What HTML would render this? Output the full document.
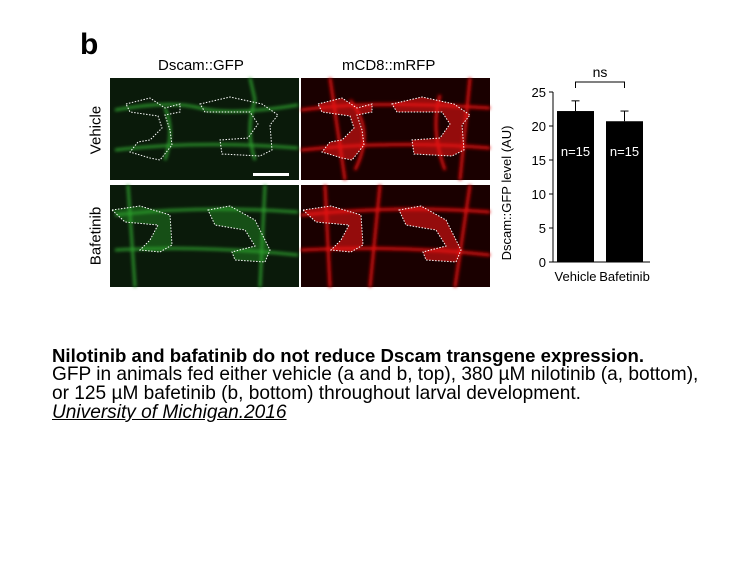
<!DOCTYPE html>
<html><head><meta charset="utf-8"><style>
body{margin:0;background:#fff;width:756px;height:567px;overflow:hidden;position:relative;font-family:"Liberation Sans",Arial,sans-serif}
.t{position:absolute;white-space:nowrap;color:#000}
</style></head><body>
<div class="t" style="left:80px;top:28px;font-size:30px;font-weight:bold">b</div>
<div class="t" style="left:158px;top:57px;font-size:15px">Dscam::GFP</div>
<div class="t" style="left:342px;top:57px;font-size:15px">mCD8::mRFP</div>
<div class="t" style="left:96px;top:130px;font-size:15px;transform:translate(-50%,-50%) rotate(-90deg)">Vehicle</div>
<div class="t" style="left:96px;top:236px;font-size:15px;transform:translate(-50%,-50%) rotate(-90deg)">Bafetinib</div>

<svg style="position:absolute;left:0;top:0" width="500" height="300">
<defs><filter id="bl"><feGaussianBlur stdDeviation="1.5"/></filter></defs>
<g>
<rect x="110" y="78" width="189" height="102" fill="#0a1a0a"/>
<g filter="url(#bl)" stroke="#2fa02f" stroke-width="2.5" fill="none">
<path d="M115 110 Q170 100 200 108 T298 105"/><path d="M115 150 Q200 140 298 148"/><path d="M165 108 Q175 130 165 160"/><path d="M255 100 Q245 130 255 160"/><path d="M250 78 L255 100"/></g>
<path d="M126 104 L150 98 L165 108 L180 104 L180 112 L165 115 L170 130 L172 145 L160 160 L150 158 L130 152 L138 142 L150 140 L162 128 L158 116 L130 112Z" fill="none" stroke="#fff" stroke-dasharray="1.5 1.5"/>
<path d="M200 104 L230 97 L262 104 L278 115 L270 125 L272 150 L260 156 L222 154 L220 140 L248 138 L258 124 L250 112 L205 112Z" fill="none" stroke="#fff" stroke-dasharray="1.5 1.5"/>
<rect x="253" y="173" width="36" height="3" fill="#fff"/></g>
<g>
<rect x="301" y="78" width="189" height="102" fill="#1a0000"/>
<g filter="url(#bl)" stroke="#e01010" stroke-width="3" fill="none">
<path d="M301 110 Q370 100 490 108"/><path d="M301 150 Q400 140 490 148"/><path d="M350 100 Q375 130 355 170"/><path d="M440 95 Q430 130 445 170"/><path d="M330 78 L345 180"/><path d="M470 78 L460 180"/></g>
<path d="M318 104 L342 98 L357 108 L372 104 L372 112 L357 115 L362 130 L364 145 L352 160 L342 158 L322 152 L330 142 L342 140 L354 128 L350 116 L322 112Z" fill="rgba(230,20,20,.6)" stroke="#fff" stroke-dasharray="1.5 1.5"/>
<path d="M392 104 L422 97 L454 104 L470 115 L462 125 L464 150 L452 156 L414 154 L412 140 L440 138 L450 124 L442 112 L397 112Z" fill="rgba(230,20,20,.6)" stroke="#fff" stroke-dasharray="1.5 1.5"/></g>
<g>
<rect x="110" y="185" width="189" height="102" fill="#0a1a0a"/>
<g filter="url(#bl)" stroke="#2fa02f" stroke-width="2.5" fill="none">
<path d="M115 215 Q200 205 298 212"/><path d="M115 250 Q200 245 298 255"/><path d="M128 185 L135 287"/><path d="M265 185 L260 287"/></g>
<path d="M112 210 L140 206 L170 215 L172 245 L160 252 L140 250 L150 240 L158 225 L125 222Z" fill="rgba(40,160,40,.4)" stroke="#fff" stroke-dasharray="1.5 1.5"/>
<path d="M208 210 L230 206 L255 220 L270 250 L265 262 L235 260 L232 252 L255 246 L245 230 L215 225Z" fill="rgba(40,160,40,.4)" stroke="#fff" stroke-dasharray="1.5 1.5"/></g>
<g>
<rect x="301" y="185" width="189" height="102" fill="#1a0000"/>
<g filter="url(#bl)" stroke="#e01010" stroke-width="3" fill="none">
<path d="M301 215 Q400 205 490 212"/><path d="M301 250 Q400 245 490 255"/><path d="M325 185 L330 287"/><path d="M380 185 L370 287"/><path d="M470 185 L455 287"/></g>
<path d="M303 210 L331 206 L361 215 L363 245 L351 252 L331 250 L341 240 L349 225 L316 222Z" fill="rgba(230,20,20,.6)" stroke="#fff" stroke-dasharray="1.5 1.5"/>
<path d="M399 210 L421 206 L446 220 L461 250 L456 262 L426 260 L423 252 L446 246 L436 230 L406 225Z" fill="rgba(230,20,20,.6)" stroke="#fff" stroke-dasharray="1.5 1.5"/></g>
</svg>

<svg id="chart" style="position:absolute;left:0;top:0" width="756" height="300" font-family="Liberation Sans, Arial, sans-serif"></svg>
<script>
const categories=["Vehicle","Bafetinib"];
const means=[22.2,20.7];
const errors=[1.5,1.5];
const nLabels=["n=15","n=15"];
const ticks=[0,5,10,15,20,25];
const svg=document.getElementById('chart');
const NS='http://www.w3.org/2000/svg';
const y0=262,y1=92,vmax=25,ax=553;
const y=v=>y0-(v/vmax)*(y0-y1);
const bx=i=>557+i*49,bw=37;
function mk(tag,attrs,txt){const e=document.createElementNS(NS,tag);for(const k in attrs)e.setAttribute(k,attrs[k]);if(txt!==undefined)e.textContent=txt;svg.appendChild(e);return e;}
let e=mk('line',{x1:ax,y1:y(0),x2:ax,y2:y(25),stroke:'#000'});

e=mk('line',{x1:ax,y1:y(0),x2:650,y2:y(0),stroke:'#000'});

ticks.forEach(t=>{
 e=mk('line',{x1:ax-4,y1:y(t),x2:ax,y2:y(t),stroke:'#000'});
 
 e=mk('text',{x:ax-7,y:y(t)+5,'text-anchor':'end','font-size':13},t);
 
});
categories.forEach((c,i)=>{
 const cx=bx(i)+bw/2;
 e=mk('line',{x1:cx,y1:y(means[i]),x2:cx,y2:y(means[i]+errors[i]),stroke:'#000'});
 
 e=mk('line',{x1:cx-4,y1:y(means[i]+errors[i]),x2:cx+4,y2:y(means[i]+errors[i]),stroke:'#000'});
 
 e=mk('rect',{x:bx(i),y:y(means[i]),width:bw,height:y(0)-y(means[i]),fill:'#000'});
 
 e=mk('text',{x:cx,y:y(15.6),'text-anchor':'middle','font-size':13,fill:'#fff'},nLabels[i]);
 
 e=mk('text',{x:cx,y:281,'text-anchor':'middle','font-size':13},c);
 
});
const c0=bx(0)+bw/2,c1=bx(1)+bw/2;
e=mk('path',{d:`M${c0} 88 L${c0} 82 L${c1} 82 L${c1} 88`,fill:'none',stroke:'#000'});

e=mk('text',{x:(c0+c1)/2,y:77,'text-anchor':'middle','font-size':14},'ns');

e=mk('text',{x:0,y:0,'text-anchor':'middle','font-size':13,transform:`translate(511,${(y0+y1)/2+16}) rotate(-90)`},'Dscam::GFP level (AU)');

</script>

<div class="t" style="left:52px;top:345px;font-size:18.6px;font-weight:bold">Nilotinib and bafatinib do not reduce Dscam transgene expression.</div>
<div class="t" style="left:52px;top:364px;font-size:19.1px">GFP in animals fed either vehicle (a and b, top), 380 µM nilotinib (a, bottom),</div>
<div class="t" style="left:52px;top:383px;font-size:19.1px">or 125 µM bafetinib (b, bottom) throughout larval development.</div>
<div class="t" style="left:52px;top:402px;font-size:19.1px;font-style:italic;text-decoration:underline">University of Michigan.2016</div>
</body></html>
